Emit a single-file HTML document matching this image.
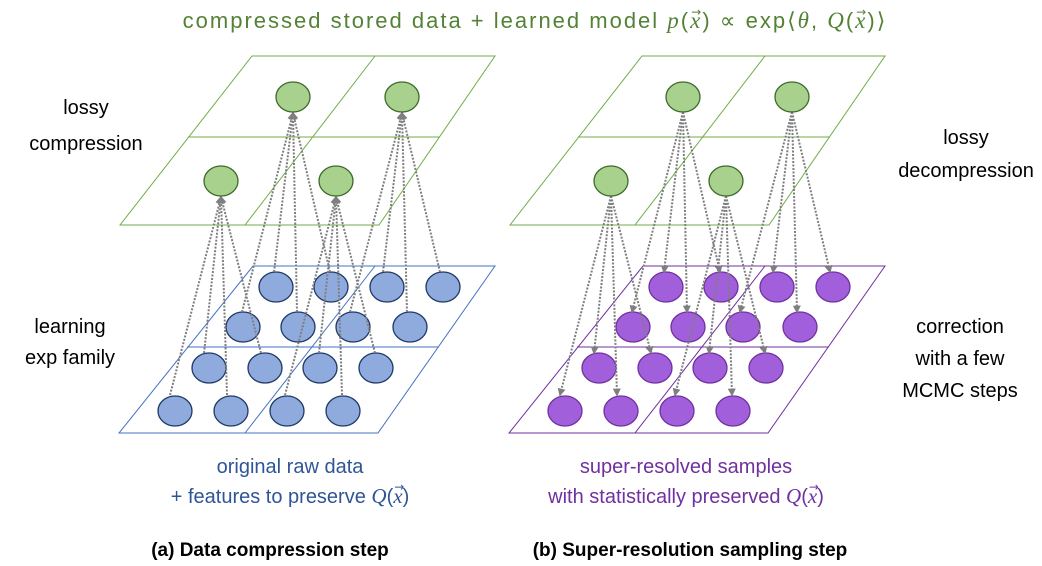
<!DOCTYPE html>
<html><head><meta charset="utf-8"><style>
html,body{margin:0;padding:0;background:#fff;}
body{position:relative;width:1042px;height:566px;overflow:hidden;}
svg{display:block;position:absolute;left:0;top:0;}
text{font-family:"Liberation Sans",sans-serif;}
.t{position:absolute;font-family:"Liberation Sans",sans-serif;font-size:20px;white-space:nowrap;text-align:center;line-height:24px;}
.m{font-family:"Liberation Serif",serif;font-style:italic;font-size:21px;}
.v{position:relative;display:inline-block;font-family:"Liberation Serif",serif;font-style:italic;font-size:21px;}
.ar{position:absolute;left:1px;top:-9px;font-size:12px;font-style:normal;font-family:"DejaVu Sans",sans-serif;letter-spacing:0;}
</style></head><body>
<svg width="1042" height="566" viewBox="0 0 1042 566" xmlns="http://www.w3.org/2000/svg">
<defs>
<marker id="ah" viewBox="0 0 10 10" refX="8" refY="5" markerWidth="4" markerHeight="4" orient="auto-start-reverse">
<path d="M0,0 L10,5 L0,10 z" fill="#7f7f7f"/></marker>
</defs>

<g font-size="20" fill="#000" text-anchor="middle">
<text x="86" y="114">lossy</text>
<text x="86" y="150">compression</text>
<text x="70" y="333">learning</text>
<text x="70" y="364">exp family</text>
<text x="966" y="144">lossy</text>
<text x="966" y="177">decompression</text>
<text x="960" y="333">correction</text>
<text x="960" y="365">with a few</text>
<text x="960" y="397">MCMC steps</text>
</g>
<g font-size="19" font-weight="bold" text-anchor="middle" fill="#000">
<text x="270" y="556">(a) Data compression step</text>
<text x="690" y="556">(b) Super-resolution sampling step</text>
</g>

<g id="L">
<g fill="none" stroke="#70AD47" stroke-width="1">
<polygon points="252,56 495,56 379,225 120,225"/>
<line x1="375" y1="56" x2="245" y2="225"/>
<line x1="188" y1="137" x2="440" y2="137"/>
</g>
<g fill="none" stroke="#4472C4" stroke-width="1">
<polygon points="253,266 495,266 378,433 119,433"/>
<line x1="375" y1="266" x2="245" y2="433"/>
<line x1="187" y1="347" x2="438" y2="347"/>
</g>
<g fill="#8FAADC" stroke="#1F3864" stroke-width="1.3">
<ellipse cx="276" cy="287" rx="17" ry="15"/><ellipse cx="331" cy="287" rx="17" ry="15"/><ellipse cx="387" cy="287" rx="17" ry="15"/><ellipse cx="443" cy="287" rx="17" ry="15"/>
<ellipse cx="243" cy="327" rx="17" ry="15"/><ellipse cx="298" cy="327" rx="17" ry="15"/><ellipse cx="353" cy="327" rx="17" ry="15"/><ellipse cx="410" cy="327" rx="17" ry="15"/>
<ellipse cx="209" cy="368" rx="17" ry="15"/><ellipse cx="265" cy="368" rx="17" ry="15"/><ellipse cx="320" cy="368" rx="17" ry="15"/><ellipse cx="376" cy="368" rx="17" ry="15"/>
<ellipse cx="175" cy="411" rx="17" ry="15"/><ellipse cx="231" cy="411" rx="17" ry="15"/><ellipse cx="287" cy="411" rx="17" ry="15"/><ellipse cx="343" cy="411" rx="17" ry="15"/>
</g>
<g stroke="#7f7f7f" stroke-width="2" stroke-dasharray="2,1.5" marker-end="url(#ah)">
<line x1="170" y1="395" x2="221" y2="197"/><line x1="227" y1="395" x2="221" y2="197"/><line x1="204" y1="353" x2="221" y2="197"/><line x1="261" y1="353" x2="221" y2="197"/>
<line x1="285" y1="395" x2="336" y2="197"/><line x1="342" y1="395" x2="336" y2="197"/><line x1="319" y1="353" x2="336" y2="197"/><line x1="375" y1="353" x2="336" y2="197"/>
<line x1="274" y1="272" x2="293" y2="113"/><line x1="330" y1="272" x2="293" y2="113"/><line x1="242" y1="312" x2="293" y2="113"/><line x1="297" y1="312" x2="293" y2="113"/>
<line x1="383" y1="272" x2="402" y2="113"/><line x1="440" y1="272" x2="402" y2="113"/><line x1="350" y1="312" x2="402" y2="113"/><line x1="407" y1="312" x2="402" y2="113"/>
</g>
<g fill="#A9D18E" stroke="#3C6A2A" stroke-width="1.3">
<ellipse cx="293" cy="97" rx="17" ry="15"/><ellipse cx="402" cy="97" rx="17" ry="15"/>
<ellipse cx="221" cy="181" rx="17" ry="15"/><ellipse cx="336" cy="181" rx="17" ry="15"/>
</g>
</g>

<g transform="translate(390,0)">
<g fill="none" stroke="#70AD47" stroke-width="1">
<polygon points="252,56 495,56 379,225 120,225"/>
<line x1="375" y1="56" x2="245" y2="225"/>
<line x1="188" y1="137" x2="440" y2="137"/>
</g>
<g fill="none" stroke="#7030A0" stroke-width="1">
<polygon points="253,266 495,266 378,433 119,433"/>
<line x1="375" y1="266" x2="245" y2="433"/>
<line x1="187" y1="347" x2="438" y2="347"/>
</g>
<g fill="#A25FDB" stroke="#7030A0" stroke-width="1.3">
<ellipse cx="276" cy="287" rx="17" ry="15"/><ellipse cx="331" cy="287" rx="17" ry="15"/><ellipse cx="387" cy="287" rx="17" ry="15"/><ellipse cx="443" cy="287" rx="17" ry="15"/>
<ellipse cx="243" cy="327" rx="17" ry="15"/><ellipse cx="298" cy="327" rx="17" ry="15"/><ellipse cx="353" cy="327" rx="17" ry="15"/><ellipse cx="410" cy="327" rx="17" ry="15"/>
<ellipse cx="209" cy="368" rx="17" ry="15"/><ellipse cx="265" cy="368" rx="17" ry="15"/><ellipse cx="320" cy="368" rx="17" ry="15"/><ellipse cx="376" cy="368" rx="17" ry="15"/>
<ellipse cx="175" cy="411" rx="17" ry="15"/><ellipse cx="231" cy="411" rx="17" ry="15"/><ellipse cx="287" cy="411" rx="17" ry="15"/><ellipse cx="343" cy="411" rx="17" ry="15"/>
</g>
<g stroke="#7f7f7f" stroke-width="2" stroke-dasharray="2,1.5" marker-end="url(#ah)">
<line x2="170" y2="395" x1="221" y1="196"/><line x2="227" y2="395" x1="221" y1="196"/><line x2="204" y2="353" x1="221" y1="196"/><line x2="261" y2="353" x1="221" y1="196"/>
<line x2="285" y2="395" x1="336" y1="196"/><line x2="342" y2="395" x1="336" y1="196"/><line x2="319" y2="353" x1="336" y1="196"/><line x2="375" y2="353" x1="336" y1="196"/>
<line x2="274" y2="272" x1="293" y1="112"/><line x2="330" y2="272" x1="293" y1="112"/><line x2="242" y2="312" x1="293" y1="112"/><line x2="297" y2="312" x1="293" y1="112"/>
<line x2="383" y2="272" x1="402" y1="112"/><line x2="440" y2="272" x1="402" y1="112"/><line x2="350" y2="312" x1="402" y1="112"/><line x2="407" y2="312" x1="402" y1="112"/>
</g>
<g fill="#A9D18E" stroke="#3C6A2A" stroke-width="1.3">
<ellipse cx="293" cy="97" rx="17" ry="15"/><ellipse cx="402" cy="97" rx="17" ry="15"/>
<ellipse cx="221" cy="181" rx="17" ry="15"/><ellipse cx="336" cy="181" rx="17" ry="15"/>
</g>
</g>
</svg>

<div class="t" style="left:0;width:1070px;top:9px;color:#548235;font-size:22px;letter-spacing:2px;">compressed stored data + learned model <span class="m" style="font-size:23px">p</span>(<span class="v" style="font-size:23px">x<span class="ar">→</span></span>) ∝ exp⟨<span class="m" style="font-size:23px">θ</span>, <span class="m" style="font-size:23px">Q</span>(<span class="v" style="font-size:23px">x<span class="ar">→</span></span>)⟩</div>
<div class="t" style="left:140px;width:300px;top:455px;color:#2F5597;">original raw data</div>
<div class="t" style="left:90px;width:400px;top:484px;color:#2F5597;">+ features to preserve <span class="m">Q</span>(<span class="v">x<span class="ar">→</span></span>)</div>
<div class="t" style="left:486px;width:400px;top:455px;color:#7030A0;">super-resolved samples</div>
<div class="t" style="left:466px;width:440px;top:484px;color:#7030A0;">with statistically preserved <span class="m">Q</span>(<span class="v">x<span class="ar">→</span></span>)</div>
</body></html>
